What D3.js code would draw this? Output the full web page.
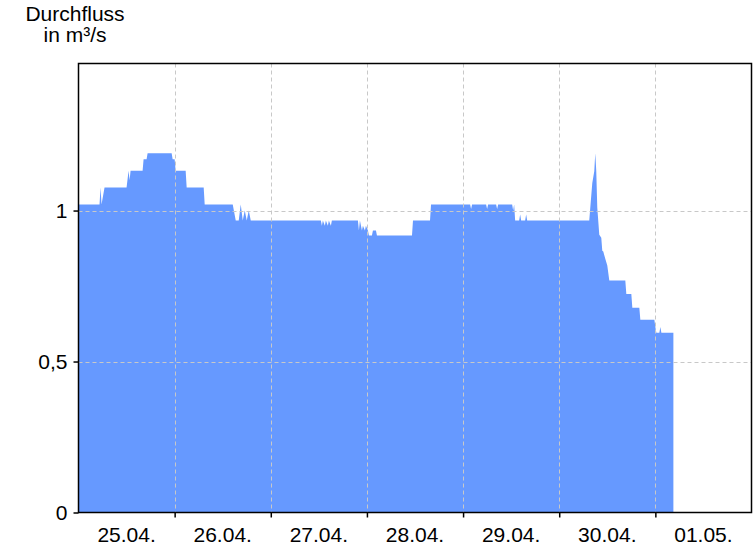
<!DOCTYPE html>
<html>
<head>
<meta charset="utf-8">
<script src="https://cdn.jsdelivr.net/npm/d3@7"></script>
<style>
  html, body { margin: 0; padding: 0; background: #fff; }
  svg { display: block; font-family: "Liberation Sans", Arial, sans-serif; }
</style>
</head>
<body>
<svg id="chart" width="756" height="546"></svg>
<script>
// ---- data ----
const startDate = new Date(2024, 3, 25, 0, 0); // 25.04. 00:00
const dayLabels = ["25.04.", "26.04.", "27.04.", "28.04.", "29.04.", "30.04.", "01.05."];
const yTickValues = [0, 0.5, 1];
const yTickLabels = ["0", "0,5", "1"];
// hours since 25.04. 00:00
const hours = [
  0, 5.25, 5.5, 5.75, 6.5, 12.0, 12.5, 12.75, 13.0,
  16.0, 16.25, 17.0, 17.25, 23.25, 23.5, 24.0, 24.25,
  26.75, 27.0, 31.25, 31.5,
  38.5, 39.25, 40.0, 40.5, 41.0, 41.5, 42.0, 42.5, 43.0, 43.5,
  60.5, 60.75, 61.0, 61.5, 61.75, 62.25, 62.5, 63.0, 63.25,
  69.75, 70.0, 70.25, 70.75, 71.0, 71.5, 71.75, 72.25, 72.5, 73.25, 73.5, 74.25, 74.5,
  83.25, 83.5, 87.75, 88.0,
  97.75, 98.0, 98.25, 101.75, 102.0, 102.25, 104.25, 104.5, 104.75,
  108.25, 108.5, 108.75, 109.0, 110.0, 110.25, 110.5, 111.5, 111.75, 112.0,
  127.5, 128.25, 128.75, 129.0, 129.25, 129.5, 130.0, 130.5, 130.75,
  131.0, 131.5, 132.0, 132.5, 136.5, 136.75, 138.0, 138.25, 140.0, 140.25,
  143.75, 144.0, 144.25, 145.0, 145.25, 145.5, 148.5
];
const flow = [
  1.02, 1.02, 1.076, 1.02, 1.076, 1.076, 1.132, 1.10, 1.132,
  1.132, 1.17, 1.17, 1.19, 1.19, 1.17, 1.17, 1.132,
  1.132, 1.076, 1.076, 1.02,
  1.02, 0.967, 0.967, 1.02, 0.967, 1.00, 0.967, 1.00, 0.967, 0.967,
  0.967, 0.95, 0.967, 0.95, 0.967, 0.95, 0.967, 0.95, 0.967,
  0.967, 0.934, 0.967, 0.934, 0.95, 0.934, 0.95, 0.934, 0.917, 0.917, 0.934, 0.934, 0.917,
  0.917, 0.967, 0.967, 1.02,
  1.02, 1.005, 1.02, 1.02, 1.005, 1.02, 1.02, 1.005, 1.02,
  1.02, 1.0, 1.02, 0.967, 0.967, 0.987, 0.967, 0.967, 0.987, 0.967,
  0.967, 1.09, 1.13, 1.19, 1.13, 1.01, 0.92, 0.91, 0.867,
  0.864, 0.84, 0.818, 0.768, 0.768, 0.724, 0.724, 0.678, 0.678, 0.638,
  0.638, 0.614, 0.595, 0.595, 0.614, 0.595, 0.595
];

const data = hours.map((h, i) => ({ t: new Date(startDate.getTime() + h * 3600000), v: flow[i] }));

// ---- layout ----
const margin = { left: 78.5, right: 751.5, top: 63.5, bottom: 512.5 };
const fontSize = 21;
const svg = d3.select("#chart");
const endDate = d3.timeDay.offset(startDate, 7);

const x = d3.scaleTime().domain([startDate, endDate]).range([margin.left, margin.right]);
const y = d3.scaleLinear().domain([0, 1.487]).range([margin.bottom, margin.top]);

// area
const area = d3.area()
  .x(d => x(d.t))
  .y0(y(0))
  .y1(d => y(d.v))
  .curve(d3.curveLinear);

svg.append("path")
  .datum(data)
  .attr("d", area)
  .attr("fill", "#6699ff");

// grid
const dayTicks = d3.range(1, 7).map(i => d3.timeDay.offset(startDate, i));
const grid = svg.append("g")
  .attr("stroke", "#c8c8c8")
  .attr("stroke-width", 1)
  .attr("stroke-dasharray", "4,3");
grid.selectAll("line.v").data(dayTicks).enter().append("line")
  .attr("x1", d => Math.round(x(d)) + 0.5).attr("x2", d => Math.round(x(d)) + 0.5)
  .attr("y1", margin.top).attr("y2", margin.bottom);
grid.selectAll("line.h").data([0.5, 1]).enter().append("line")
  .attr("x1", margin.left).attr("x2", margin.right)
  .attr("y1", d => Math.round(y(d)) + 0.5).attr("y2", d => Math.round(y(d)) + 0.5);

// frame
svg.append("rect")
  .attr("x", margin.left).attr("y", margin.top)
  .attr("width", margin.right - margin.left)
  .attr("height", margin.bottom - margin.top)
  .attr("fill", "none").attr("stroke", "#000").attr("stroke-width", 1.5);

// x axis ticks (day boundaries) and labels centered in each day
const xAxis = d3.axisBottom(x)
  .tickValues(dayTicks)
  .tickSize(5)
  .tickFormat("");
svg.append("g")
  .attr("transform", `translate(0,${margin.bottom})`)
  .call(xAxis)
  .call(g => g.select(".domain").remove())
  .call(g => g.selectAll("line").attr("stroke", "#000").attr("stroke-width", 1.5));

svg.append("g").selectAll("text")
  .data(dayLabels).enter().append("text")
  .attr("x", (d, i) => x(d3.timeHour.offset(startDate, i * 24 + 12)))
  .attr("y", 542)
  .attr("text-anchor", "middle")
  .attr("font-size", fontSize)
  .attr("fill", "#000")
  .text(d => d);

// y axis
const yAxis = d3.axisLeft(y)
  .tickValues(yTickValues)
  .tickSize(5)
  .tickPadding(6)
  .tickFormat((d, i) => yTickLabels[i]);
svg.append("g")
  .attr("transform", `translate(${margin.left},0)`)
  .call(yAxis)
  .call(g => g.select(".domain").remove())
  .call(g => g.selectAll("line").attr("stroke", "#000").attr("stroke-width", 1.5))
  .call(g => g.selectAll("text")
    .attr("font-size", fontSize)
    .attr("font-family", "'Liberation Sans', Arial, sans-serif")
    .attr("fill", "#000"));

// title
const title = svg.append("text")
  .attr("text-anchor", "middle")
  .attr("font-size", fontSize)
  .attr("fill", "#000");
title.append("tspan").attr("x", 75).attr("y", 21).text("Durchfluss");
title.append("tspan").attr("x", 75).attr("y", 42).text("in m³/s");
</script>
</body>
</html>
